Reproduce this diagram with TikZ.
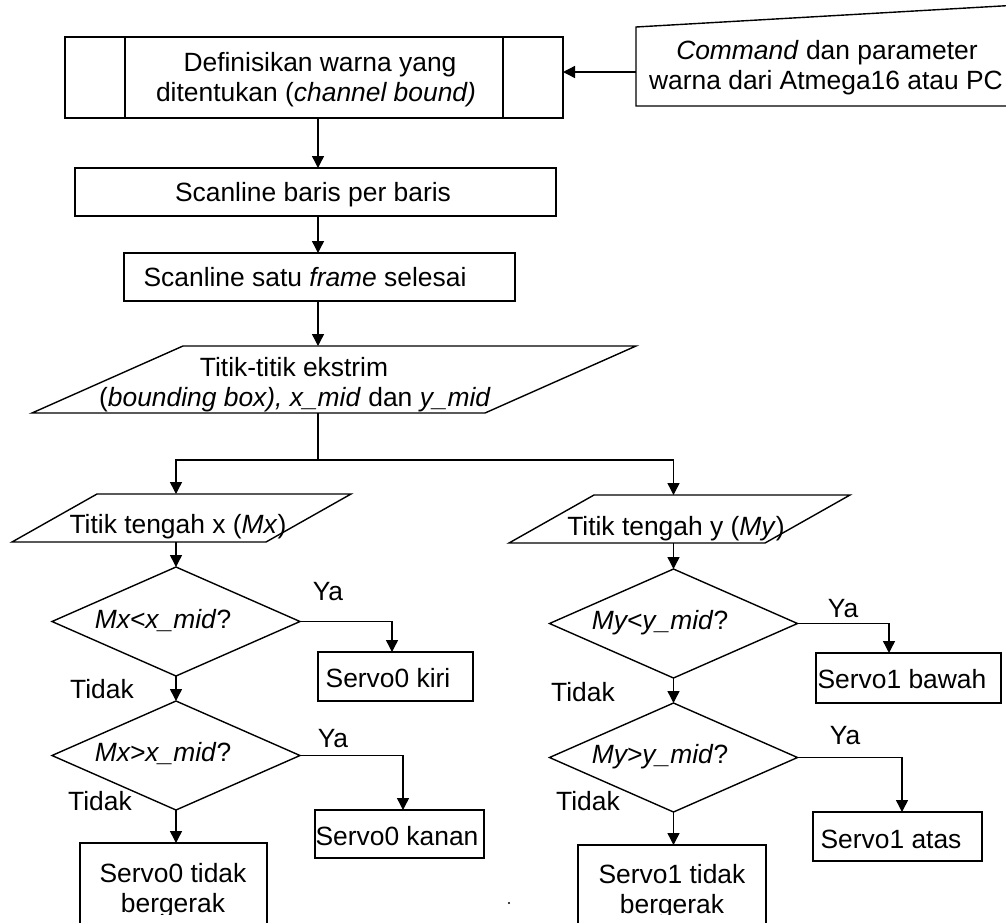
\documentclass[tikz,border=0pt]{standalone}
\usepackage{fontspec}
\setmainfont{Liberation Sans}
\usetikzlibrary{arrows.meta,shapes.geometric,calc}
\begin{document}
\begin{tikzpicture}[x=1pt,y=-1pt,
  line width=1.4pt,
  every node/.style={inner sep=0pt, outer sep=0pt},
  txt/.style={anchor=base, font=\fontsize{26.4pt}{30pt}\selectfont},
  box/.style={draw, rectangle},
  hull/.style={rectangle},
  dec/.style={draw, diamond, minimum width=248pt, minimum height=109pt},
  arr/.style={-{Triangle[length=12pt,width=12pt]}},
]
\path[use as bounding box, clip] (0,0) rectangle (1006,922);

% guide columns
\coordinate (spine) at (318,0);
\coordinate (colL) at (176,0);
\coordinate (colR) at (673.5,0);
\coordinate (br) at (318,460);

% predefined process
\node[box, minimum width=498pt, minimum height=81pt] (def) at (314,77.5) {};
\draw ([xshift=60pt]def.north west) -- ([xshift=60pt]def.south west);
\draw ([xshift=-60pt]def.north east) -- ([xshift=-60pt]def.south east);
\node[txt] (defa) at (320,71) {Definisikan warna yang};
\node[txt] (defb) at (316,101) {ditentukan (\textit{channel bound)}};

% manual input
\node[hull, minimum width=374pt, minimum height=79pt] (cmd) at (823,66.5) {};
\draw ($(cmd.north east)+(0,-21.5)$) -- (cmd.north west) -- (cmd.south west) -- (cmd.south east);
\node[txt] (cmda) at (827,59) {\textit{Command} dan parameter};
\node[txt] (cmdb) at (826,89) {warna dari Atmega16 atau PC};
\draw[arr] ([yshift=-5.5pt]cmd.west) -- ([yshift=5.5pt]def.east);

% scanline steps
\node[box, minimum width=481pt, minimum height=48pt] (scan1) at (315.5,192) {};
\node[txt] (scan1t) at (313,201) {Scanline baris per baris};
\node[box, minimum width=391pt, minimum height=48pt] (scan2) at (319.5,277) {};
\node[txt] (scan2t) at (305,286) {Scanline satu \textit{frame} selesai};
\draw[arr] (def.south -| spine) -- (scan1.north -| spine);
\draw[arr] (scan1.south -| spine) -- (scan2.north -| spine);

% extreme points (data)
\node[hull, minimum width=604pt, minimum height=67pt] (bigio) at (334,379.5) {};
\draw ($(bigio.north west)+(151,0)$) -- (bigio.north east) -- ($(bigio.south east)+(-151,0)$) -- (bigio.south west) -- cycle;
\node[txt] (bigioa) at (294,376) {Titik-titik ekstrim};
\node[txt] (bigiob) at (295,406) {(\textit{bounding box), x\_mid} dan \textit{y\_mid}};
\draw[arr] (scan2.south -| spine) -- (bigio.north -| spine);
\draw (bigio.south -| spine) -- (br);

% midpoints (data)
\node[hull, minimum width=339pt, minimum height=48pt] (iox) at (181.5,518) {};
\draw ($(iox.north west)+(85,0)$) -- (iox.north east) -- ($(iox.south east)+(-85,0)$) -- (iox.south west) -- cycle;
\node[txt] (ioxt) at (178,533) {Titik tengah x (\textit{Mx})};
\node[hull, minimum width=341pt, minimum height=48pt] (ioy) at (679.5,519) {};
\draw ($(ioy.north west)+(85,0)$) -- (ioy.north east) -- ($(ioy.south east)+(-85,0)$) -- (ioy.south west) -- cycle;
\node[txt] (ioyt) at (676,535) {Titik tengah y (\textit{My})};
\draw[arr] (br) -| (iox.north -| colL);
\draw[arr] (br) -| (ioy.north -| colR);

% decisions, x axis
\node[dec] (d1) at (176,621.5) {};
\node[txt] (d1t) at (163,628) {\textit{Mx<x\_mid}?};
\node[dec] (d2) at (176,755.5) {};
\node[txt] (d2t) at (163,761) {\textit{Mx>x\_mid}?};
\draw[arr] (iox.south -| colL) -- (d1.north);
\draw[arr] (d1.south) -- (d2.north);

% decisions, y axis
\node[dec] (d3) at (673.5,623.5) {};
\node[txt] (d3t) at (660,629) {\textit{My<y\_mid}?};
\node[dec] (d4) at (673.5,757.5) {};
\node[txt] (d4t) at (660,763) {\textit{My>y\_mid}?};
\draw[arr] (ioy.south -| colR) -- (d3.north);
\draw[arr] (d3.south) -- (d4.north);

% servo actions
\node[box, minimum width=155pt, minimum height=49pt] (s0k) at (395.5,676.5) {};
\node[txt] (s0kt) at (388,687) {Servo0 kiri};
\node[box, minimum width=169pt, minimum height=48pt] (s0n) at (399.5,834) {};
\node[txt] (s0nt) at (397,845) {Servo0 kanan};
\node[box, minimum width=187pt, minimum height=92pt] (s0t) at (173.5,889) {};
\node[box, minimum width=185pt, minimum height=50pt] (s1b) at (908.5,678) {};
\node[txt] (s1bt) at (902,688) {Servo1 bawah};
\node[box, minimum width=169pt, minimum height=49pt] (s1a) at (897.5,836.5) {};
\node[txt] (s1at) at (891,848) {Servo1 atas};
\node[box, minimum width=188pt, minimum height=92pt] (s1t) at (672,891) {};
\begin{scope}
  \clip (0,0) rectangle (1006,914);
  \node[txt] (s0ta) at (173,882) {Servo0 tidak};
  \node[txt] (s0tb) at (173,912) {bergerak};
  \node[txt] (s1ta) at (672,883) {Servo1 tidak};
  \node[txt] (s1tb) at (672,913) {bergerak};
\end{scope}

\draw[arr] (d1.east) -| ([xshift=-3.5pt]s0k.north);
\draw[arr] (d2.east) -| ([xshift=3.5pt]s0n.north);
\draw[arr] (d2.south) -- (s0t.north -| colL);
\draw[arr] (d3.east) -| ([xshift=-19.5pt]s1b.north);
\draw[arr] (d4.east) -| ([xshift=4.5pt]s1a.north);
\draw[arr] (d4.south) -- (s1t.north -| colR);

% branch labels
\node[txt] (ya1) at (328,600) {Ya};
\node[txt] (ya2) at (333,747) {Ya};
\node[txt] (ya3) at (843,617) {Ya};
\node[txt] (ya4) at (845,744) {Ya};
\node[txt] (no1) at (102,698) {Tidak};
\node[txt] (no2) at (100,810) {Tidak};
\node[txt] (no3) at (583,701) {Tidak};
\node[txt] (no4) at (588,810) {Tidak};

\fill (509,903) circle (1.2pt);
\end{tikzpicture}
\end{document}
